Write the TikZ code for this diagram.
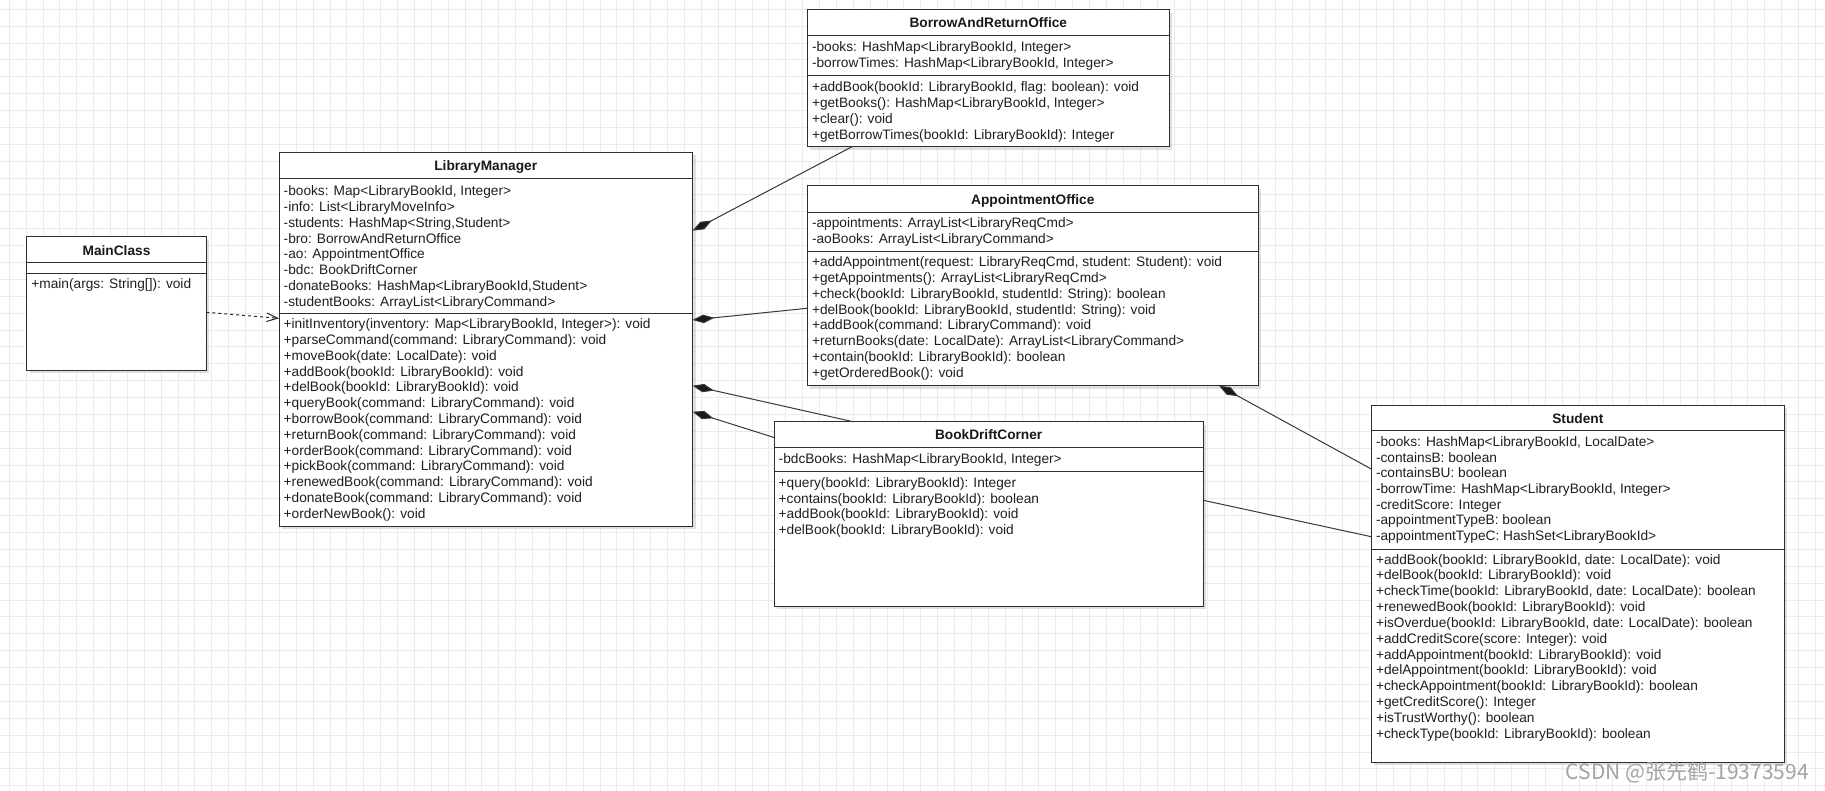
\documentclass[tikz,border=0pt]{standalone}
\usepackage{fontspec}
\setmainfont{Liberation Sans}
\newfontfamily\cjkfont{Noto Sans CJK SC}
\usetikzlibrary{arrows.meta,shadows,calc}

\tikzset{
  classbox/.style={draw=black!82, line width=1pt, fill=white, inner sep=0pt, outer sep=0pt,
    anchor=north west, drop shadow={shadow xshift=3pt, shadow yshift=-3pt, fill=black, opacity=0.12}},
  sepline/.style={draw=black!82, line width=1pt},
  ctitle/.style={font=\bfseries\fontsize{13.7}{15.8}\selectfont, anchor=base, inner sep=0pt, text=black!90},
  cline/.style={font=\fontsize{13.7}{15.8}\selectfont, anchor=base west, inner sep=0pt, text=black!88},
  gridline/.style={draw=black!8, line width=1pt},
  comp/.style={draw=black!78, line width=1pt, -{Diamond[length=22pt,width=8.5pt,fill=black!90]}},
  dep/.style={draw=black!85, line width=1pt, dash pattern=on 3pt off 3pt, -{Straight Barb[length=11pt,width=8.5pt]}},
  assoc/.style={draw=black!78, line width=1pt},
}

% #1 name, #2 x, #3 top y, #4 width, #5 height, #6 title, #7 title baseline, #8 header sep y, #9 attr sep y
\newcommand\umlclass[9]{%
  \node[classbox, minimum width=#4pt, minimum height=#5pt] (#1) at (#2,#3) {};
  \node[ctitle] (#1-title) at (#1.north |- 0,#7) {#6};
  \draw[sepline] (#1.west |- 0,#8) -- (#1.east |- 0,#8);
  \draw[sepline] (#1.west |- 0,#9) -- (#1.east |- 0,#9);
}
% #1 name prefix, #2 x, #3 first baseline, #4 spacing, #5 list of lines
\newcommand\clines[5]{%
  \foreach \t [count=\i from 0] in {#5} {\node[cline, name=#1-\i] at (#2, #3+\i*#4) {\t};}
}

\begin{document}
\begin{tikzpicture}[x=1pt, y=-1pt]
\useasboundingbox (0,0) rectangle (1825,791);
\fill[white] (0,0) rectangle (1825,791);
\foreach \i in {0,...,107} {\draw[gridline] (9.3+\i*16.88,0) -- (9.3+\i*16.88,791);}
\foreach \i in {0,...,46} {\draw[gridline] (0,9.3+\i*16.88) -- (1825,9.3+\i*16.88);}

% MainClass
\umlclass{mc}{26.7}{236.7}{179.6}{133.6}{MainClass}{255.7}{262.3}{273.3}
\clines{mcm}{31.2}{288.3}{15.8}{{+main(args: String[]): void}}

% LibraryManager
\umlclass{lm}{279}{152.3}{413.5}{373.7}{LibraryManager}{170.3}{178.3}{313.1}
\clines{lma}{283.5}{195.7}{15.8}{{-books: Map<LibraryBookId, Integer>},{-info: List<LibraryMoveInfo>},{-students: HashMap<String,Student>},{-bro: BorrowAndReturnOffice},{-ao: AppointmentOffice},{-bdc: BookDriftCorner},{-donateBooks: HashMap<LibraryBookId,Student>},{-studentBooks: ArrayList<LibraryCommand>}}
\clines{lmm}{283.5}{328.7}{15.8}{{+initInventory(inventory: Map<LibraryBookId, Integer>): void},{+parseCommand(command: LibraryCommand): void},{+moveBook(date: LocalDate): void},{+addBook(bookId: LibraryBookId): void},{+delBook(bookId: LibraryBookId): void},{+queryBook(command: LibraryCommand): void},{+borrowBook(command: LibraryCommand): void},{+returnBook(command: LibraryCommand): void},{+orderBook(command: LibraryCommand): void},{+pickBook(command: LibraryCommand): void},{+renewedBook(command: LibraryCommand): void},{+donateBook(command: LibraryCommand): void},{+orderNewBook(): void}}

% BorrowAndReturnOffice
\umlclass{bro}{807.3}{10}{362}{136.7}{BorrowAndReturnOffice}{28}{36}{76}
\clines{broa}{811.8}{51.7}{15.8}{{-books: HashMap<LibraryBookId, Integer>},{-borrowTimes: HashMap<LibraryBookId, Integer>}}
\clines{brom}{811.8}{91.7}{15.8}{{+addBook(bookId: LibraryBookId, flag: boolean): void},{+getBooks(): HashMap<LibraryBookId, Integer>},{+clear(): void},{+getBorrowTimes(bookId: LibraryBookId): Integer}}

% AppointmentOffice
\umlclass{ao}{807.3}{186}{451}{199.7}{AppointmentOffice}{204.3}{212.7}{251.7}
\clines{aoa}{811.8}{227.7}{15.8}{{-appointments: ArrayList<LibraryReqCmd>},{-aoBooks: ArrayList<LibraryCommand>}}
\clines{aom}{811.8}{266.7}{15.8}{{+addAppointment(request: LibraryReqCmd, student: Student): void},{+getAppointments(): ArrayList<LibraryReqCmd>},{+check(bookId: LibraryBookId, studentId: String): boolean},{+delBook(bookId: LibraryBookId, studentId: String): void},{+addBook(command: LibraryCommand): void},{+returnBooks(date: LocalDate): ArrayList<LibraryCommand>},{+contain(bookId: LibraryBookId): boolean},{+getOrderedBook(): void}}

% BookDriftCorner
\umlclass{bdc}{774}{421.7}{429.3}{184.3}{BookDriftCorner}{439.5}{447.3}{471.7}
\clines{bdca}{778.5}{463.3}{15.8}{{-bdcBooks: HashMap<LibraryBookId, Integer>}}
\clines{bdcm}{778.5}{487.3}{15.7}{{+query(bookId: LibraryBookId): Integer},{+contains(bookId: LibraryBookId): boolean},{+addBook(bookId: LibraryBookId): void},{+delBook(bookId: LibraryBookId): void}}

% Student
\umlclass{st}{1371.3}{405}{413}{357.3}{Student}{423}{430.7}{549.3}
\clines{sta}{1375.8}{446.3}{15.7}{{-books: HashMap<LibraryBookId, LocalDate>},{-containsB: boolean},{-containsBU: boolean},{-borrowTime: HashMap<LibraryBookId, Integer>},{-creditScore: Integer},{-appointmentTypeB: boolean},{-appointmentTypeC: HashSet<LibraryBookId>}}
\clines{stm}{1375.8}{564}{15.85}{{+addBook(bookId: LibraryBookId, date: LocalDate): void},{+delBook(bookId: LibraryBookId): void},{+checkTime(bookId: LibraryBookId, date: LocalDate): boolean},{+renewedBook(bookId: LibraryBookId): void},{+isOverdue(bookId: LibraryBookId, date: LocalDate): boolean},{+addCreditScore(score: Integer): void},{+addAppointment(bookId: LibraryBookId): void},{+delAppointment(bookId: LibraryBookId): void},{+checkAppointment(bookId: LibraryBookId): boolean},{+getCreditScore(): Integer},{+isTrustWorthy(): boolean},{+checkType(bookId: LibraryBookId): boolean}}

% connectors
\draw[dep] (mc.east |- 0,312.3) -- (lm.west |- 0,318.3);
\draw[comp] (bro.south -| 852,0) -- (lm.east |- 0,230.7);
\draw[comp] (ao.west |- 0,308.3) -- (lm.east |- 0,320);
\draw[comp] (bdc.north -| 853,0) -- (lm.east |- 0,385.7);
\draw[comp] (bdc.west |- 0,437.5) -- (lm.east |- 0,411.7);
\draw[comp] (st.west |- 0,469) -- (ao.south -| 1219,0);
\draw[assoc] (bdc.east |- 0,500.3) -- (st.west |- 0,536.7);

% watermark
\node[anchor=base west, inner sep=0pt, font=\cjkfont\fontsize{21}{25}\selectfont, text=black!36] (wm) at (1565.5,779.5) {CSDN @张先鹤-19373594};
\end{tikzpicture}
\end{document}
